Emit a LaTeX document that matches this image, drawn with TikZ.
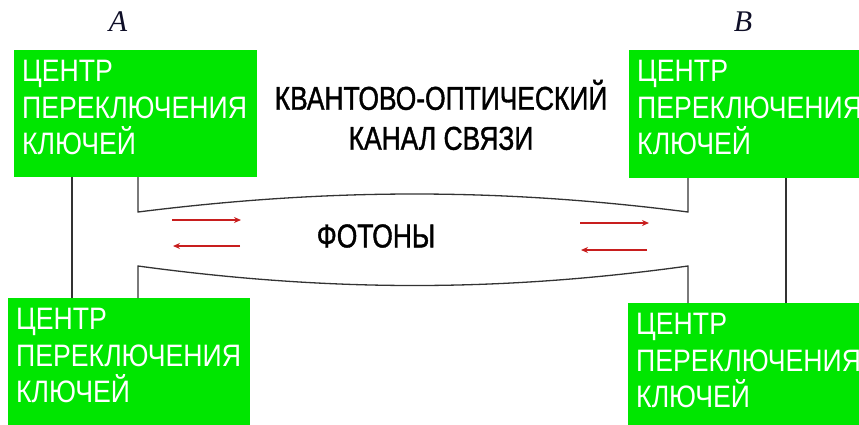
\documentclass[tikz,border=0pt]{standalone}
\usepackage{fontspec}
\setmainfont{Liberation Serif}
\newfontfamily\boxfont[FakeStretch=0.86]{Liberation Sans}
\newfontfamily\midfont[FakeStretch=0.80,FakeBold=1.2]{Liberation Sans}
\usetikzlibrary{arrows.meta}
\definecolor{boxgreen}{RGB}{0,230,0}
\definecolor{arrred}{RGB}{200,30,30}
\definecolor{lblblue}{RGB}{15,15,40}
\tikzset{
  ctext/.style={anchor=north west, align=left, text=white, inner sep=0pt,
    font=\boxfont\fontsize{31}{36.5}\selectfont},
  mid/.style={align=center, text=black, inner sep=0pt,
    font=\midfont\fontsize{33}{40}\selectfont},
  wire/.style={draw=black!80, line width=1.3pt},
  photon/.style={draw=arrred, line width=1.3pt, -{Stealth[length=7pt,width=6pt]}},
  lbl/.style={text=lblblue, font=\itshape\fontsize{30}{34}\selectfont, inner sep=0pt}
}
\begin{document}
\begin{tikzpicture}[x=1pt,y=-1pt]
\useasboundingbox (0,0) rectangle (859,424);
% boxes
\path[fill=boxgreen] (14,50) rectangle (257,177);
\path[fill=boxgreen] (629,50) rectangle (870,178);
\path[fill=boxgreen] (8,298) rectangle (250,430);
\path[fill=boxgreen] (628,303) rectangle (870,430);
\node[ctext] (ta) at (22,60) {ЦЕНТР\\ПЕРЕКЛЮЧЕНИЯ\\КЛЮЧЕЙ};
\node[ctext] (tb) at (637,60) {ЦЕНТР\\ПЕРЕКЛЮЧЕНИЯ\\КЛЮЧЕЙ};
\node[ctext] (ba) at (16,308) {ЦЕНТР\\ПЕРЕКЛЮЧЕНИЯ\\КЛЮЧЕЙ};
\node[ctext] (bb) at (636,313) {ЦЕНТР\\ПЕРЕКЛЮЧЕНИЯ\\КЛЮЧЕЙ};
% labels
\node[lbl] (A) at (118,22) {A};
\node[lbl] (B) at (743,22) {B};
% titles
\node[mid] (title) at (441,115) {КВАНТОВО-ОПТИЧЕСКИЙ\\КАНАЛ СВЯЗИ};
\node[mid] (ph) at (376,236) {ФОТОНЫ};
% coordinates
\coordinate (l1t) at (72,177); \coordinate (l1b) at (72,298);
\coordinate (r1t) at (786,178); \coordinate (r1b) at (786,303);
\coordinate (a1) at (138,177); \coordinate (a2) at (138,212);
\coordinate (b1) at (688,178); \coordinate (b2) at (688,212);
\coordinate (a3) at (138,266); \coordinate (a4) at (138,298);
\coordinate (b3) at (688,266); \coordinate (b4) at (688,303);
\draw[wire] (l1t) -- (l1b);
\draw[wire] (r1t) -- (r1b);
\draw[wire] (a1) -- (a2) .. controls (330,188) and (500,188) .. (b2) -- (b1);
\draw[wire] (a4) -- (a3) .. controls (330,292) and (500,292) .. (b3) -- (b4);
% photon arrows
\coordinate (p1s) at (172,220); \coordinate (p1e) at (241,220);
\coordinate (p2s) at (240,246); \coordinate (p2e) at (173,246);
\coordinate (p3s) at (580,223); \coordinate (p3e) at (649,223);
\coordinate (p4s) at (647,250); \coordinate (p4e) at (581,250);
\draw[photon] (p1s) -- (p1e);
\draw[photon] (p2s) -- (p2e);
\draw[photon] (p3s) -- (p3e);
\draw[photon] (p4s) -- (p4e);
\end{tikzpicture}
\end{document}
